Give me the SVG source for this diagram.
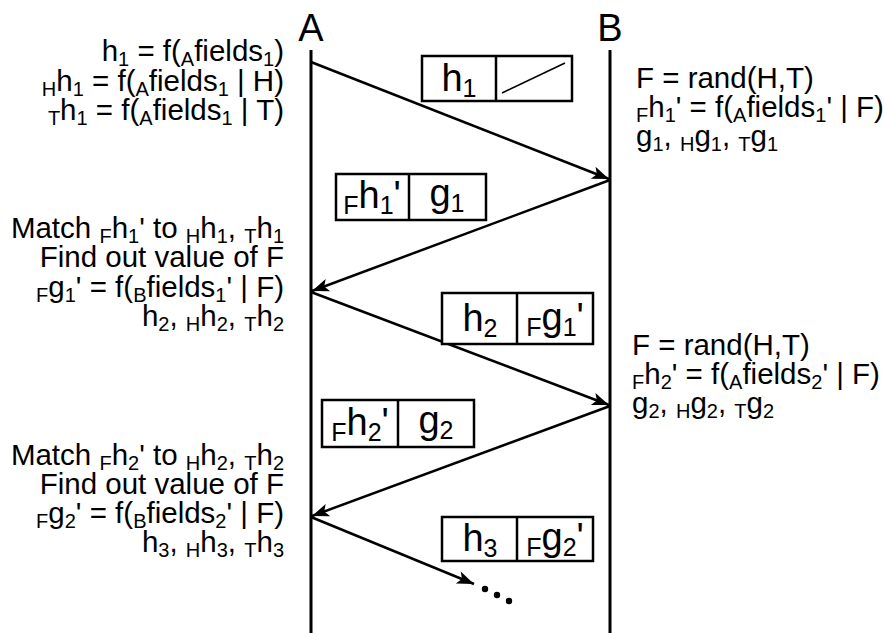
<svg xmlns="http://www.w3.org/2000/svg" width="884" height="633" viewBox="0 0 884 633">
<style>
text{font-family:"Liberation Sans",Arial,sans-serif;fill:#000}
.t{font-size:29.5px}
.e{text-anchor:end}
.m{text-anchor:middle}
.s{font-size:20px;baseline-shift:-5px}
.big{font-size:38px}
.bs{font-size:25px;baseline-shift:-6px}
.lbl{font-size:38px;text-anchor:middle}
.life{stroke:#000;stroke-width:3;fill:none}
.box{fill:#fff;stroke:#000;stroke-width:2.5}
.div{stroke:#000;stroke-width:2.5}
.arr{stroke:#000;stroke-width:2.5;fill:none;marker-end:url(#ah)}
</style>
<defs>
<marker id="ah" viewBox="-20 -8 22 16" refX="0" refY="0" markerWidth="22" markerHeight="16" markerUnits="userSpaceOnUse" orient="auto">
<path d="M0,0 L-17,-6.5 L-13,0 L-17,6.5 Z" fill="#000"/>
</marker>
</defs>
<rect width="884" height="633" fill="#fff"/>

<g id="lifeline-A">
<text class="lbl" x="311" y="41">A</text>
<line class="life" x1="311" y1="50" x2="311" y2="633"/>
</g>
<g id="lifeline-B">
<text class="lbl" x="610" y="41">B</text>
<line class="life" x1="610" y1="50" x2="610" y2="633"/>
</g>

<g id="connectors">
<line class="arr" x1="311" y1="62" x2="609" y2="179"/>
<line class="arr" x1="610" y1="180" x2="312" y2="291"/>
<line class="arr" x1="311" y1="292" x2="609" y2="405"/>
<line class="arr" x1="610" y1="406" x2="312" y2="516"/>
<line class="arr" x1="311" y1="517" x2="474" y2="584"/>
<circle cx="485" cy="589" r="3.2"/>
<circle cx="497" cy="595" r="3.2"/>
<circle cx="509" cy="601" r="3.2"/>
</g>

<g id="notes-A1">
<text class="t e" x="284" y="61">h<tspan class="s">1</tspan> = f(<tspan class="s">A</tspan>fields<tspan class="s">1</tspan>)</text>
<text class="t e" x="284" y="91"><tspan class="s">H</tspan>h<tspan class="s">1</tspan> = f(<tspan class="s">A</tspan>fields<tspan class="s">1</tspan> | H)</text>
<text class="t e" x="284" y="120"><tspan class="s">T</tspan>h<tspan class="s">1</tspan> = f(<tspan class="s">A</tspan>fields<tspan class="s">1</tspan> | T)</text>
</g>

<g id="notes-B1">
<text class="t" x="636" y="88">F = rand(H,T)</text>
<text class="t" x="636" y="117"><tspan class="s">F</tspan>h<tspan class="s">1</tspan>' = f(<tspan class="s">A</tspan>fields<tspan class="s">1</tspan>' | F)</text>
<text class="t" x="636" y="146">g<tspan class="s">1</tspan>, <tspan class="s">H</tspan>g<tspan class="s">1</tspan>, <tspan class="s">T</tspan>g<tspan class="s">1</tspan></text>
</g>

<g id="notes-A2">
<text class="t e" x="284" y="238">Match <tspan class="s">F</tspan>h<tspan class="s">1</tspan>' to <tspan class="s">H</tspan>h<tspan class="s">1</tspan>, <tspan class="s">T</tspan>h<tspan class="s">1</tspan></text>
<text class="t e" x="284" y="267">Find out value of F</text>
<text class="t e" x="284" y="297"><tspan class="s">F</tspan>g<tspan class="s">1</tspan>' = f(<tspan class="s">B</tspan>fields<tspan class="s">1</tspan>' | F)</text>
<text class="t e" x="284" y="326">h<tspan class="s">2</tspan>, <tspan class="s">H</tspan>h<tspan class="s">2</tspan>, <tspan class="s">T</tspan>h<tspan class="s">2</tspan></text>
</g>

<g id="notes-B2">
<text class="t" x="632" y="355">F = rand(H,T)</text>
<text class="t" x="632" y="384"><tspan class="s">F</tspan>h<tspan class="s">2</tspan>' = f(<tspan class="s">A</tspan>fields<tspan class="s">2</tspan>' | F)</text>
<text class="t" x="632" y="413">g<tspan class="s">2</tspan>, <tspan class="s">H</tspan>g<tspan class="s">2</tspan>, <tspan class="s">T</tspan>g<tspan class="s">2</tspan></text>
</g>

<g id="notes-A3">
<text class="t e" x="284" y="465">Match <tspan class="s">F</tspan>h<tspan class="s">2</tspan>' to <tspan class="s">H</tspan>h<tspan class="s">2</tspan>, <tspan class="s">T</tspan>h<tspan class="s">2</tspan></text>
<text class="t e" x="284" y="494">Find out value of F</text>
<text class="t e" x="284" y="523"><tspan class="s">F</tspan>g<tspan class="s">2</tspan>' = f(<tspan class="s">B</tspan>fields<tspan class="s">2</tspan>' | F)</text>
<text class="t e" x="284" y="552">h<tspan class="s">3</tspan>, <tspan class="s">H</tspan>h<tspan class="s">3</tspan>, <tspan class="s">T</tspan>h<tspan class="s">3</tspan></text>
</g>

<g id="msg1">
<rect class="box" x="422" y="56" width="150" height="45"/>
<line class="div" x1="496" y1="56" x2="496" y2="101"/>
<line x1="502" y1="93" x2="565" y2="63" stroke="#000" stroke-width="1.5"/>
<text class="big m" x="459" y="91">h<tspan class="bs">1</tspan></text>
</g>

<g id="msg2">
<rect class="box" x="336" y="174" width="150" height="46"/>
<line class="div" x1="409" y1="174" x2="409" y2="220"/>
<text class="big m" x="372" y="208"><tspan class="bs">F</tspan>h<tspan class="bs">1</tspan>'</text>
<text class="big m" x="447" y="206">g<tspan class="bs">1</tspan></text>
</g>

<g id="msg3">
<rect class="box" x="442" y="293" width="151" height="51"/>
<line class="div" x1="517" y1="293" x2="517" y2="344"/>
<text class="big m" x="480" y="331">h<tspan class="bs">2</tspan></text>
<text class="big m" x="555" y="330"><tspan class="bs">F</tspan>g<tspan class="bs">1</tspan>'</text>
</g>

<g id="msg4">
<rect class="box" x="322" y="400" width="152" height="47"/>
<line class="div" x1="398" y1="400" x2="398" y2="447"/>
<text class="big m" x="360" y="435"><tspan class="bs">F</tspan>h<tspan class="bs">2</tspan>'</text>
<text class="big m" x="436" y="433">g<tspan class="bs">2</tspan></text>
</g>

<g id="msg5">
<rect class="box" x="442" y="517" width="151" height="44"/>
<line class="div" x1="517" y1="517" x2="517" y2="561"/>
<text class="big m" x="480" y="551">h<tspan class="bs">3</tspan></text>
<text class="big m" x="555" y="550"><tspan class="bs">F</tspan>g<tspan class="bs">2</tspan>'</text>
</g>
</svg>
